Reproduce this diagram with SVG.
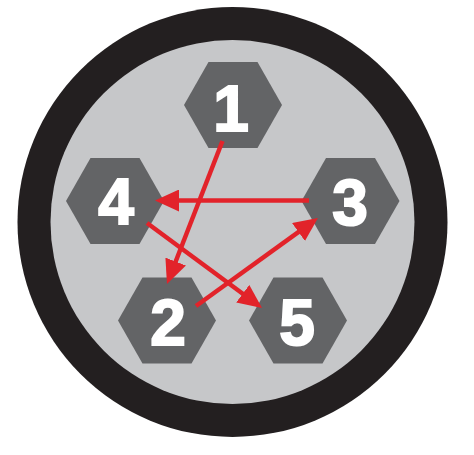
<svg xmlns="http://www.w3.org/2000/svg" width="474" height="455" viewBox="0 0 474 455">
<style>
.hex{fill:#636466}
.num{font-family:"Liberation Sans",Arial,sans-serif;font-weight:bold;font-size:64px;fill:#ffffff;stroke:#ffffff;stroke-width:2;text-anchor:middle}
.arrow{stroke:#e2232a;stroke-width:4.5;fill:none;marker-end:url(#ah)}
</style>
<defs>
<marker id="ah" markerUnits="userSpaceOnUse" markerWidth="24" markerHeight="22" refX="19" refY="11" orient="auto">
<path d="M0,0 L24,11 L0,22 Z" fill="#e2232a"/>
</marker>
</defs>
<rect width="474" height="455" fill="#ffffff"/>
<circle cx="232.5" cy="222" r="215" fill="#231f20"/>
<circle cx="232.5" cy="222" r="182" fill="#c6c7c9"/>
<g id="node1"><polygon class="hex" points="184,105 208.5,62 257.5,62 282,105 257.5,148 208.5,148"/><text class="num" x="231" y="131">1</text></g>
<g id="node4"><polygon class="hex" points="66,201 90.5,158 139.5,158 164,201 139.5,244 90.5,244"/><text class="num" x="116" y="224">4</text></g>
<g id="node3"><polygon class="hex" points="301.5,201 326,158 375,158 399.5,201 375,244 326,244"/><text class="num" x="350" y="225">3</text></g>
<g id="node2"><polygon class="hex" points="118,320.5 142.5,277.5 191.5,277.5 216,320.5 191.5,363.5 142.5,363.5"/><text class="num" x="168" y="345">2</text></g>
<g id="node5"><polygon class="hex" points="249,320.5 273.5,277.5 322.5,277.5 347,320.5 322.5,363.5 273.5,363.5"/><text class="num" x="297" y="345">5</text></g>
<g id="connectors">
<line class="arrow" x1="222.5" y1="141" x2="168.8" y2="279.3"/>
<line class="arrow" x1="309" y1="200.5" x2="160" y2="200.5"/>
<line class="arrow" x1="147" y1="223" x2="258" y2="305"/>
<line class="arrow" x1="196" y1="306" x2="313.9" y2="220.9"/>
</g>
</svg>
